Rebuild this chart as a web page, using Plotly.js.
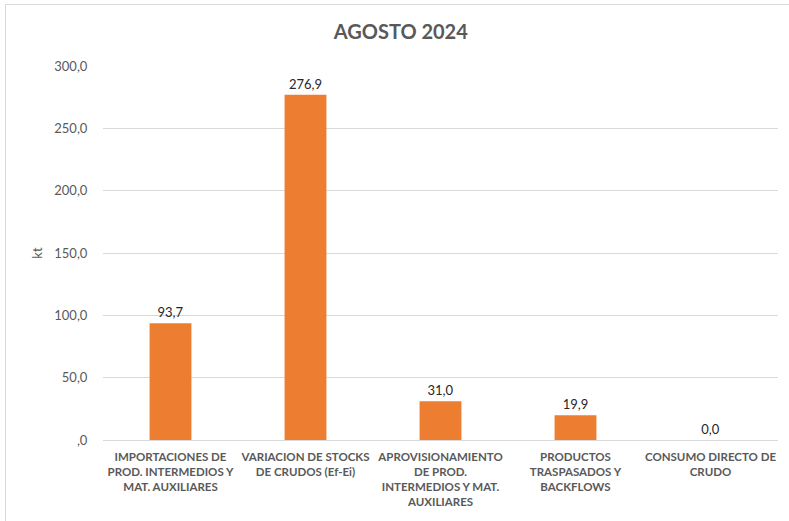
<!DOCTYPE html>
<html><head><meta charset="utf-8">
<script src="https://cdn.plot.ly/plotly-3.0.1.min.js"></script>
<style>
html,body{margin:0;padding:0;background:#fff;}
#frame{position:absolute;left:5px;top:4px;width:800px;height:530px;border:1px solid #D9D9D9;box-sizing:border-box;pointer-events:none;z-index:5;}
#chart{width:789px;height:521px;}
</style></head>
<body>
<div id="frame"></div>
<div id="chart"></div>
<script>
const categories = [
  "IMPORTACIONES DE<br>PROD. INTERMEDIOS Y<br>MAT. AUXILIARES",
  "VARIACION DE STOCKS<br>DE CRUDOS (Ef-Ei)",
  "APROVISIONAMIENTO<br>DE PROD.<br>INTERMEDIOS Y MAT.<br>AUXILIARES",
  "PRODUCTOS<br>TRASPASADOS Y<br>BACKFLOWS",
  "CONSUMO DIRECTO DE<br>CRUDO"
];
const values = [93.7, 276.9, 31.0, 19.9, 0.0];
const valueLabels = ["93,7", "276,9", "31,0", "19,9", "0,0"];
const yTickVals = [0, 50, 100, 150, 200, 250, 300];
const yTickText = [",0", "50,0", "100,0", "150,0", "200,0", "250,0", "300,0"];

const trace = {
  type: "bar",
  x: categories,
  y: values,
  text: valueLabels,
  textposition: "outside",
  cliponaxis: false,
  textfont: {family: "Lato, sans-serif", size: 13, color: "#262626"},
  marker: {color: "#ED7D31"},
  hoverinfo: "none"
};

const layout = {
  width: 789, height: 521,
  margin: {l: 103, r: 11, t: 66, b: 81},
  paper_bgcolor: "#fff", plot_bgcolor: "#fff",
  bargap: 0.69,
  showlegend: false,
  font: {family: "Lato, sans-serif", color: "#595959"},
  title: {text: "<b>AGOSTO 2024</b>", x: 0.508, xref: "container", y: 0.938, yanchor: "middle",
          font: {family: "Lato, sans-serif", size: 20, color: "#595959"}},
  xaxis: {
    type: "category",
    tickfont: {family: "Lato, sans-serif", size: 11.5, color: "#595959", weight: "bold"},
    ticks: "outside", ticklen: 6, tickcolor: "rgba(0,0,0,0)",
    showline: false, showgrid: false, zeroline: false,
    tickangle: 0,
    automargin: false
  },
  yaxis: {
    range: [0, 300],
    tickvals: yTickVals, ticktext: yTickText,
    tickfont: {family: "Lato, sans-serif", size: 13, color: "#595959"},
    ticks: "outside", ticklen: 12, tickcolor: "rgba(0,0,0,0)",
    showgrid: true, gridcolor: "#D9D9D9", gridwidth: 1,
    zeroline: true, zerolinecolor: "#D9D9D9", zerolinewidth: 1,
    showline: false,
    title: {text: "kt", standoff: 8, font: {family: "Lato, sans-serif", size: 13, color: "#595959"}},
    automargin: false
  }
};

Plotly.newPlot("chart", [trace], layout, {displayModeBar: false, staticPlot: true});
</script>
</body></html>
